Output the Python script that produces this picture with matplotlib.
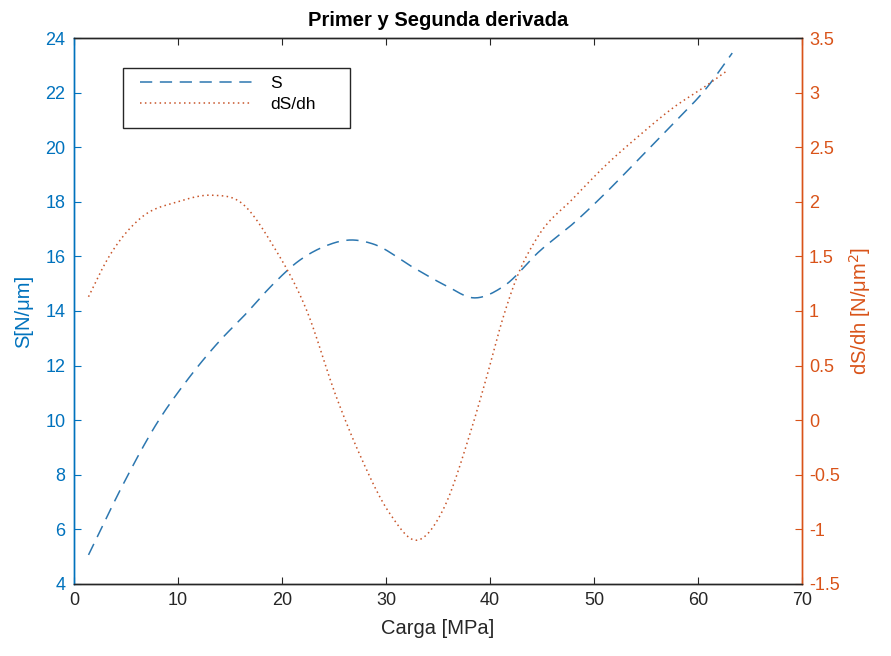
import numpy as np
import matplotlib.pyplot as plt
from matplotlib.patches import Rectangle

plt.rcParams['font.family'] = ['Liberation Sans', 'DejaVu Sans']

# S curve (left axis)
carga_s = [1.4, 4.8, 8.0, 10.9, 14.1, 16.3, 19.2, 21.5, 24.0, 26.6, 28.8, 32.6, 35.9, 38.4,
           41.3, 44.8, 48.0, 51.2, 54.4, 57.6, 60.9, 63.3]
s_vals = [5.06, 7.7, 9.9, 11.47, 12.94, 13.8, 15.0, 15.8, 16.35, 16.6, 16.45, 15.6, 14.9, 14.48,
          14.9, 16.2, 17.2, 18.35, 19.6, 20.85, 22.2, 23.45]

# dS/dh curve (right axis)
carga_d = [1.4, 3.2, 6.4, 10.0, 13.3, 16.1, 19.2, 22.4, 25.2, 27.5, 30.4, 33.0,
           35.5, 38.1, 39.7, 41.3, 42.6, 44.6, 48.0, 51.2, 54.4, 57.6, 60.9, 62.8]
ds_vals = [1.13, 1.47, 1.85, 2.0, 2.06, 1.99, 1.59, 1.0, 0.22, -0.32, -0.86, -1.1,
           -0.82, -0.12, 0.40, 0.95, 1.31, 1.68, 2.03, 2.34, 2.61, 2.86, 3.07, 3.2]

blue = '#0072BD'
orange = '#D95319'
gray = '#262626'


def smooth(xs, ys):
    # cubic Hermite through the read points, tangents from neighbour secants
    xs = np.asarray(xs, float)
    ys = np.asarray(ys, float)
    h = np.diff(xs)
    d = np.diff(ys) / h
    m = np.empty_like(ys)
    m[0], m[-1] = d[0], d[-1]
    m[1:-1] = (h[1:] * d[:-1] + h[:-1] * d[1:]) / (h[:-1] + h[1:])
    px, py = [], []
    t = np.linspace(0, 1, 20, endpoint=False)
    h00 = 2 * t**3 - 3 * t**2 + 1
    h10 = t**3 - 2 * t**2 + t
    h01 = -2 * t**3 + 3 * t**2
    h11 = t**3 - t**2
    for i in range(len(xs) - 1):
        px.extend(xs[i] + t * h[i])
        py.extend(h00 * ys[i] + h10 * h[i] * m[i] + h01 * ys[i + 1] + h11 * h[i] * m[i + 1])
    px.append(xs[-1])
    py.append(ys[-1])
    return np.array(px), np.array(py)


fig = plt.figure(figsize=(8.91, 6.56), dpi=100)
ax = fig.add_axes([0.083, 0.110, 0.817, 0.832])
ax2 = ax.twinx()

sx, sy = smooth(carga_s, s_vals)
dx, dy = smooth(carga_d, ds_vals)
l1, = ax.plot(sx, sy, color='#2C77B0', lw=1.1, dashes=(8, 5), label='S')
l2, = ax2.plot(dx, dy, color='#C8552A', lw=1.1, linestyle=(0, (1, 2.2)), label='dS/dh')

ax.set_xlim(0, 70)
ax.set_ylim(4, 24)
ax2.set_ylim(-1.5, 3.5)
ax.set_xticks(np.arange(0, 71, 10))
ax.set_yticks(np.arange(4, 25, 2))
ax2.set_yticks(np.arange(-1.5, 3.6, 0.5))
ax2.set_yticklabels(['-1.5', '-1', '-0.5', '0', '0.5', '1', '1.5', '2', '2.5', '3', '3.5'])

for a in (ax, ax2):
    a.spines['top'].set_color(gray)
    a.spines['bottom'].set_color(gray)
    a.spines['left'].set_color(blue)
    a.spines['right'].set_color(orange)
    for s in a.spines.values():
        s.set_linewidth(1.0)

ax.tick_params(axis='x', direction='in', top=True, colors=gray, labelsize=13, length=5, pad=6)
ax.tick_params(axis='y', direction='in', colors=blue, labelsize=13, length=5, pad=6)
ax2.tick_params(axis='y', direction='in', colors=orange, labelsize=13, length=5, pad=5)

ax.set_xlabel('Carga [MPa]', fontsize=14.5, color=gray, labelpad=7)
ax.set_ylabel('S[N/μm]', fontsize=14.5, color=blue, labelpad=9)
ax2.set_ylabel('dS/dh [N/μm$^2$]', fontsize=14.5, color=orange, labelpad=5)
ax.set_title('Primer y Segunda derivada', fontsize=14.5, fontweight='bold', color='black', pad=9)

# legend box like MATLAB's (wider than the entries)
ax.add_patch(Rectangle((0.067, 0.835), 0.312, 0.11, transform=ax.transAxes,
                       facecolor='white', edgecolor=gray, lw=1.0, zorder=5))
leg = ax2.legend(handles=[l1, l2], loc='upper left', bbox_to_anchor=(0.083, 0.94),
                 borderaxespad=0, frameon=False, fontsize=12.5,
                 handlelength=6.5, handletextpad=1.0, borderpad=0.3, labelspacing=0.35)
leg.set_zorder(6)

fig.savefig('out.png', dpi=100)
